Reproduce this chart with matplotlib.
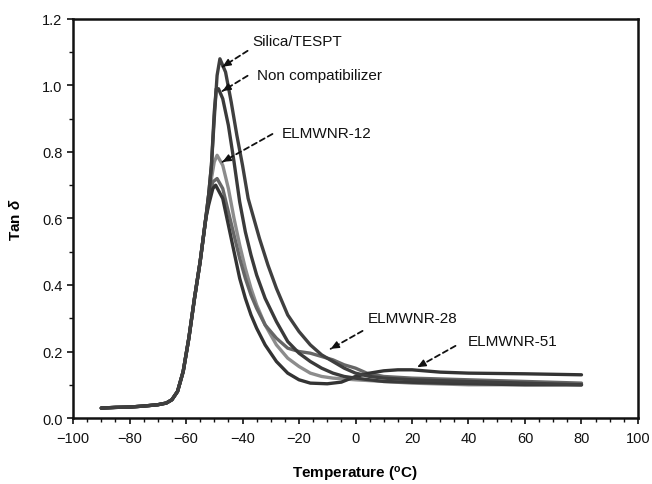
import matplotlib
matplotlib.use("Agg")
import matplotlib.pyplot as plt
from matplotlib.ticker import MultipleLocator

plt.rcParams['font.family'] = ['Liberation Sans', 'DejaVu Sans']
plt.rcParams['mathtext.fontset'] = 'custom'
plt.rcParams['mathtext.rm'] = 'Liberation Sans:bold'
plt.rcParams['mathtext.bf'] = 'Liberation Sans:bold'
plt.rcParams['mathtext.it'] = 'Liberation Sans:italic:bold'

# shared low-temperature rise
rise_t = [-90, -85, -80, -75, -70, -67, -65, -63, -61, -59, -57, -55, -53, -52, -51]
rise_v = [0.03, 0.032, 0.033, 0.036, 0.04, 0.045, 0.055, 0.08, 0.14, 0.24, 0.36, 0.47, 0.60, 0.67, 0.76]

silica_t = rise_t + [-50, -49, -48, -46, -44, -42, -40, -38, -34, -31, -28, -24, -20, -16, -12, -8, -4, 0, 5, 10, 20, 40, 60, 80]
silica_v = rise_v + [0.90, 1.03, 1.08, 1.04, 0.95, 0.85, 0.76, 0.66, 0.54, 0.46, 0.39, 0.31, 0.26, 0.22, 0.19, 0.17, 0.15, 0.135, 0.125, 0.12, 0.115, 0.11, 0.105, 0.10]

noncomp_t = rise_t + [-50, -49.3, -48.5, -47, -45, -43, -41, -39, -37, -35, -32, -28, -24, -20, -16, -12, -8, -4, 0, 10, 30, 60, 80]
noncomp_v = rise_v + [0.92, 0.99, 0.99, 0.96, 0.88, 0.77, 0.65, 0.56, 0.49, 0.43, 0.36, 0.29, 0.23, 0.195, 0.17, 0.15, 0.135, 0.125, 0.12, 0.11, 0.105, 0.10, 0.10]

e12_t = rise_t[:-1] + [-51, -50, -49, -47, -45, -43, -41, -39, -37, -35, -32, -28, -24, -20, -16, -12, -8, 0, 20, 40, 60, 80]
e12_v = rise_v[:-1] + [0.72, 0.77, 0.79, 0.76, 0.69, 0.60, 0.52, 0.45, 0.39, 0.34, 0.28, 0.22, 0.18, 0.155, 0.135, 0.125, 0.12, 0.115, 0.105, 0.10, 0.10, 0.10]

e28_t = rise_t[:-2] + [-52, -50.5, -49, -47, -45, -43, -41, -39, -37, -35, -32, -28, -24, -20, -16, -12, -8, -4, 0, 4, 10, 20, 40, 60, 80]
e28_v = rise_v[:-2] + [0.65, 0.71, 0.72, 0.69, 0.62, 0.55, 0.48, 0.42, 0.37, 0.33, 0.28, 0.24, 0.21, 0.20, 0.195, 0.185, 0.175, 0.16, 0.15, 0.135, 0.125, 0.12, 0.115, 0.11, 0.105]

e51_t = rise_t[:-2] + [-52, -50.5, -49.5, -47, -45, -43, -41, -39, -37, -35, -32, -28, -24, -20, -16, -10, -5, 0, 5, 10, 15, 20, 30, 40, 60, 80]
e51_v = rise_v[:-2] + [0.64, 0.69, 0.70, 0.66, 0.58, 0.50, 0.42, 0.36, 0.31, 0.27, 0.22, 0.17, 0.135, 0.115, 0.105, 0.103, 0.108, 0.125, 0.135, 0.142, 0.145, 0.145, 0.138, 0.135, 0.133, 0.13]

labels = ['Silica/TESPT', 'Non compatibilizer', 'ELMWNR-12', 'ELMWNR-28', 'ELMWNR-51']
label_text_pos = [(-36.5, 1.134), (-34.7, 1.032), (-26.2, 0.857), (4.2, 0.30), (39.6, 0.231)]
arrow_tails = [(-38.2, 1.104), (-38.2, 1.029), (-29.4, 0.854), (2.5, 0.262), (35.4, 0.217)]
arrow_heads = [(-47.1, 1.056), (-47.1, 0.983), (-47.1, 0.77), (-8.8, 0.208), (21.9, 0.153)]

fig = plt.figure(figsize=(6.52, 4.85), dpi=100)
ax = fig.add_axes([0.112, 0.136, 0.8665, 0.823])

series = [(e12_t, e12_v, '#8c8c8c'), (e28_t, e28_v, '#666666'), (e51_t, e51_v, '#333333'),
          (noncomp_t, noncomp_v, '#3a3a3a'), (silica_t, silica_v, '#3f3f3f')]
for t, v, c in series:
    ax.plot(t, v, color=c, lw=2.4, solid_capstyle='round', solid_joinstyle='round')

for lab, tp, tail, head in zip(labels, label_text_pos, arrow_tails, arrow_heads):
    ax.text(tp[0], tp[1], lab, fontsize=11, va='center', ha='left', color='#111111')
    ax.annotate('', xy=head, xytext=tail,
                arrowprops=dict(arrowstyle='-', ls=(0, (3, 2)), lw=1.3, color='#111111',
                                shrinkA=0, shrinkB=0))
    dx = head[0] - tail[0]
    dy = head[1] - tail[1]
    ax.annotate('', xy=head, xytext=(head[0] - dx * 0.15, head[1] - dy * 0.15),
                arrowprops=dict(arrowstyle='-|>,head_length=0.5,head_width=0.22', lw=1.0,
                                color='#111111', shrinkA=0, shrinkB=0))

ax.set_xlim(-100, 100)
ax.set_ylim(0, 1.2)
ax.xaxis.set_major_locator(MultipleLocator(20))
ax.xaxis.set_minor_locator(MultipleLocator(5))
ax.yaxis.set_major_locator(MultipleLocator(0.2))
ax.yaxis.set_minor_locator(MultipleLocator(0.1))
ax.set_xticks(range(-100, 101, 20))
ax.set_xticklabels(['\u2212100', '\u221280', '\u221260', '\u221240', '\u221220', '0', '20', '40', '60', '80', '100'])
ax.set_yticks([0, 0.2, 0.4, 0.6, 0.8, 1.0, 1.2])
ax.set_yticklabels(['0.0', '0.2', '0.4', '0.6', '0.8', '1.0', '1.2'])
ax.tick_params(which='major', direction='out', length=4, width=1.2, labelsize=10.5, colors='#111111')
ax.tick_params(which='minor', direction='out', length=3, width=1.0, colors='#111111')
ax.tick_params(axis='x', which='major', pad=5)
for s in ax.spines.values():
    s.set_linewidth(1.8)
    s.set_color('#111111')

ax.set_xlabel('Temperature ($^{\\mathrm{o}}$C)', fontsize=11, fontweight='bold', labelpad=14)
ax.set_ylabel('Tan $\\delta$', fontsize=11, fontweight='bold', labelpad=14)

fig.savefig('out.png', dpi=100)
